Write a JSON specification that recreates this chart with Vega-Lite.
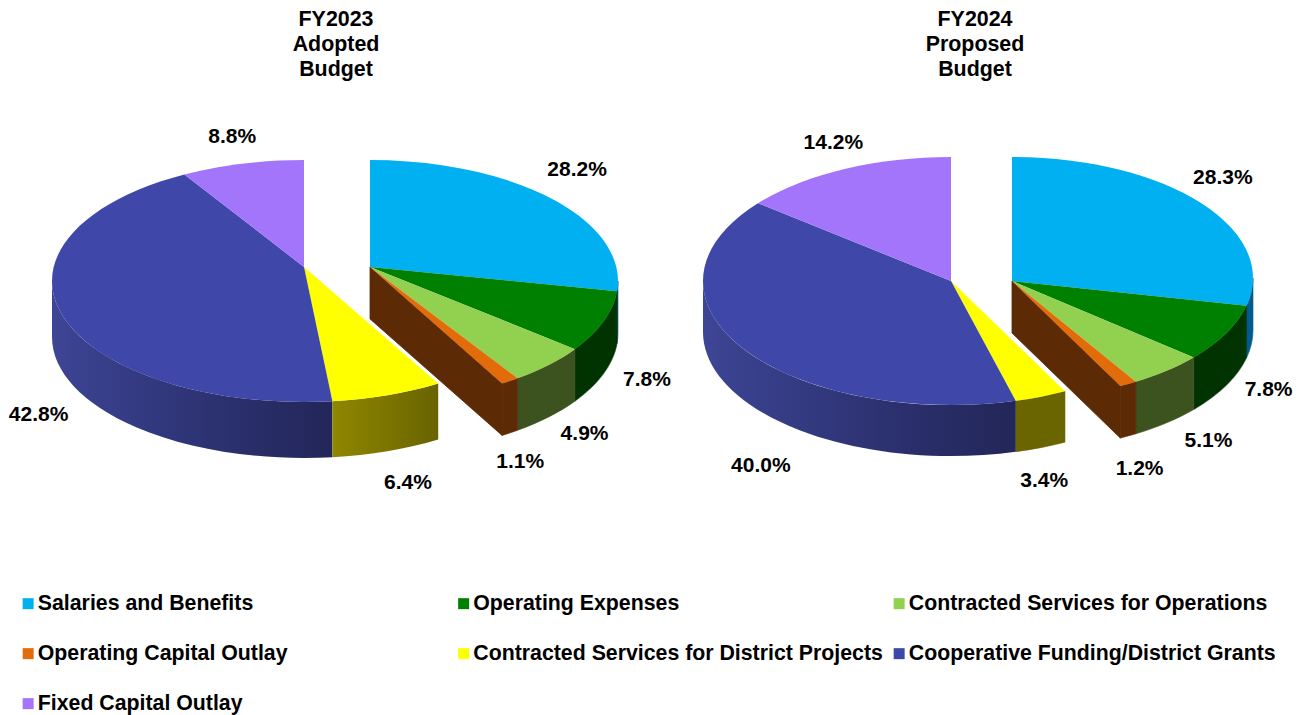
{
"$schema":"https://vega.github.io/schema/vega-lite/v6.json",
"width":1299,"height":715,"padding":0,"autosize":{"type":"none"},"background":"white",
"config":{"view":{"stroke":null}},
"data":{"values":[
{"budget":"FY2023","stage":"Adopted","rank":1,"category":"Salaries and Benefits","share":28.2},
{"budget":"FY2023","stage":"Adopted","rank":2,"category":"Operating Expenses","share":7.8},
{"budget":"FY2023","stage":"Adopted","rank":3,"category":"Contracted Services for Operations","share":4.9},
{"budget":"FY2023","stage":"Adopted","rank":4,"category":"Operating Capital Outlay","share":1.1},
{"budget":"FY2023","stage":"Adopted","rank":5,"category":"Contracted Services for District Projects","share":6.4},
{"budget":"FY2023","stage":"Adopted","rank":6,"category":"Cooperative Funding/District Grants","share":42.8},
{"budget":"FY2023","stage":"Adopted","rank":7,"category":"Fixed Capital Outlay","share":8.8},
{"budget":"FY2024","stage":"Proposed","rank":1,"category":"Salaries and Benefits","share":28.3},
{"budget":"FY2024","stage":"Proposed","rank":2,"category":"Operating Expenses","share":7.8},
{"budget":"FY2024","stage":"Proposed","rank":3,"category":"Contracted Services for Operations","share":5.1},
{"budget":"FY2024","stage":"Proposed","rank":4,"category":"Operating Capital Outlay","share":1.2},
{"budget":"FY2024","stage":"Proposed","rank":5,"category":"Contracted Services for District Projects","share":3.4},
{"budget":"FY2024","stage":"Proposed","rank":6,"category":"Cooperative Funding/District Grants","share":40.0},
{"budget":"FY2024","stage":"Proposed","rank":7,"category":"Fixed Capital Outlay","share":14.2}
]},
"transform":[
{"stack":"share","groupby":["budget"],"sort":[{"field":"rank","order":"ascending"}],"as":["s0","s1"]},
{"calculate":"datum.budget==='FY2023'?0.116:(datum.rank<=4?-0.025:0)","as":"e"},
{"calculate":"datum.budget==='FY2023'?(datum.rank<=4?248:252):(datum.rank<=4?241:248)","as":"rx"},
{"calculate":"datum.budget==='FY2023'?121:(datum.rank<=4?121:124)","as":"ry"},
{"calculate":"datum.budget==='FY2023'?(datum.rank<=4?370:304):(datum.rank<=4?1012:951)","as":"ox"},
{"calculate":"datum.budget==='FY2023'?(datum.rank<=4?52:56):(datum.rank<=4?52:51)","as":"h"},
{"calculate":"datum.budget==='FY2024'&&datum.rank<=4?278:281","as":"cy"},
{"calculate":"sqrt(1-datum.e*datum.e)","as":"k"},
{"calculate":"2*PI*datum.s0/100","as":"a0"},
{"calculate":"2*PI*datum.s1/100","as":"a1"},
{"calculate":"(datum.a0+datum.a1)/2","as":"am"},
{"calculate":"sin(datum.a0)*datum.k/(1+datum.e*cos(datum.a0))","as":"X0"},
{"calculate":"(cos(datum.a0)+datum.e)/(1+datum.e*cos(datum.a0))","as":"Y0"},
{"calculate":"sin(datum.a1)*datum.k/(1+datum.e*cos(datum.a1))","as":"X1"},
{"calculate":"(cos(datum.a1)+datum.e)/(1+datum.e*cos(datum.a1))","as":"Y1"},
{"calculate":"sin(datum.am)*datum.k/(1+datum.e*cos(datum.am))","as":"Xm"},
{"calculate":"(cos(datum.am)+datum.e)/(1+datum.e*cos(datum.am))","as":"Ym"},
{"calculate":"(atan2(datum.X0,datum.Y0)+2*PI)%(2*PI)","as":"p0"},
{"calculate":"(atan2(datum.X1,datum.Y1)+2*PI)%(2*PI)","as":"p1"},
{"calculate":"clamp(datum.p0,PI/2,3*PI/2)","as":"r0"},
{"calculate":"clamp(datum.p1,PI/2,3*PI/2)","as":"r1"},
{"calculate":"round(datum.rx*datum.X0*100)/100","as":"x0"},
{"calculate":"round(-datum.ry*datum.Y0*100)/100","as":"y0"},
{"calculate":"round(datum.rx*datum.X1*100)/100","as":"x1"},
{"calculate":"round(-datum.ry*datum.Y1*100)/100","as":"y1"},
{"calculate":"round(-datum.e*datum.ry*100)/100","as":"ay"},
{"calculate":"round(datum.rx*sin(datum.r0)*100)/100","as":"u0"},
{"calculate":"round(-datum.ry*cos(datum.r0)*100)/100","as":"v0"},
{"calculate":"round(datum.rx*sin(datum.r1)*100)/100","as":"u1"},
{"calculate":"round(-datum.ry*cos(datum.r1)*100)/100","as":"v1"},
{"calculate":"'M0 '+datum.ay+' L'+datum.x0+' '+datum.y0+' A'+datum.rx+' '+datum.ry+' 0 '+(datum.p1-datum.p0>PI?1:0)+' 1 '+datum.x1+' '+datum.y1+' Z'","as":"topPath"},
{"calculate":"'M'+datum.u0+' '+datum.v0+' A'+datum.rx+' '+datum.ry+' 0 0 1 '+datum.u1+' '+datum.v1+' L'+datum.u1+' '+(datum.v1+datum.h)+' A'+datum.rx+' '+datum.ry+' 0 0 0 '+datum.u0+' '+(datum.v0+datum.h)+' Z'","as":"rimPath"},
{"calculate":"'M0 '+datum.ay+' L'+datum.x1+' '+datum.y1+' L'+datum.x1+' '+(datum.y1+datum.h)+' L0 '+(datum.ay+datum.h)+' Z'","as":"wallPath"},
{"calculate":"datum.budget==='FY2023'?[5,11,11,-9,9,14,-2][datum.rank-1]:[-6,12,20,-5,-9,46,4][datum.rank-1]","as":"nx"},
{"calculate":"datum.budget==='FY2023'?[-6,-3,-4,4,4,46,2][datum.rank-1]:[-7,-9,-5,7,5,50,1][datum.rank-1]","as":"ny"},
{"calculate":"datum.ox+(datum.rx+34)*datum.Xm+datum.nx","as":"lx"},
{"calculate":"datum.cy-(datum.ry+30)*datum.Ym+(datum.Ym<0?datum.h:0)+datum.ny","as":"ly"},
{"calculate":"format(datum.share,'.1f')+'%'","as":"label"}
],
"encoding":{
"x":{"field":"ox","type":"quantitative","axis":null,"scale":{"domain":[0,1299],"range":[0,1299],"nice":false,"zero":false}},
"y":{"field":"cy","type":"quantitative","axis":null,"scale":{"domain":[0,715],"range":[0,715],"nice":false,"zero":false}}
},
"layer":[
{"transform":[{"filter":"datum.r1>datum.r0 && datum.rank!==6 && !(datum.rank===5 && datum.budget==='FY2023')"}],
 "mark":{"type":"point","filled":true,"opacity":1,"size":4,"strokeWidth":0.6},
 "encoding":{"shape":{"field":"rimPath","type":"nominal","scale":null,"legend":null},
 "fill":{"field":"rank","type":"ordinal","legend":null,"scale":{"domain":[1,2,3,4,5,6,7],"range":["#005b8f","#003300","#3c5320","#5c2a04","#6b6500","#2e3475","#6a4ea8"]}},
 "stroke":{"field":"rank","type":"ordinal","legend":null,"scale":{"domain":[1,2,3,4,5,6,7],"range":["#005b8f","#003300","#3c5320","#5c2a04","#6b6500","#2e3475","#6a4ea8"]}}}},
{"transform":[{"filter":"datum.r1>datum.r0 && datum.rank===6"}],
 "mark":{"type":"point","filled":true,"opacity":1,"size":4,"fill":{"gradient":"linear","x1":0,"x2":1,"y1":0,"y2":0,"stops":[{"offset":0,"color":"#3d4595"},{"offset":0.5,"color":"#2e3475"},{"offset":1,"color":"#222658"}]}},
 "encoding":{"shape":{"field":"rimPath","type":"nominal","scale":null,"legend":null}}},
{"transform":[{"filter":"datum.r1>datum.r0 && datum.rank===5 && datum.budget==='FY2023'"}],
 "mark":{"type":"point","filled":true,"opacity":1,"size":4,"fill":{"gradient":"linear","x1":0,"x2":1,"y1":0,"y2":0,"stops":[{"offset":0,"color":"#8f8700"},{"offset":1,"color":"#696300"}]}},
 "encoding":{"shape":{"field":"rimPath","type":"nominal","scale":null,"legend":null}}},
{"transform":[{"filter":"datum.rank===4"}],
 "mark":{"type":"point","filled":true,"opacity":1,"size":4,"fill":"#5c2a04","stroke":"#5c2a04","strokeWidth":0.8},
 "encoding":{"shape":{"field":"wallPath","type":"nominal","scale":null,"legend":null}}},
{"mark":{"type":"point","filled":true,"opacity":1,"size":4},
 "encoding":{"shape":{"field":"topPath","type":"nominal","scale":null,"legend":null},
 "color":{"field":"category","type":"nominal",
  "scale":{"domain":["Salaries and Benefits","Operating Expenses","Contracted Services for Operations","Operating Capital Outlay","Contracted Services for District Projects","Cooperative Funding/District Grants","Fixed Capital Outlay"],"range":["#00B0F0","#008000","#92D050","#E36C0A","#FFFF00","#3F48A8","#A375FA"]},
  "legend":{"title":null,"orient":"none","direction":"horizontal","legendX":17.5,"legendY":593,"columns":3,"gridAlign":"all","symbolType":"square","symbolSize":121,"symbolStrokeWidth":0,"symbolOpacity":1,"labelFont":"Liberation Sans","labelFontSize":21.3,"labelFontWeight":"bold","labelColor":"#000000","labelLimit":600,"labelOffset":-1,"rowPadding":28,"columnPadding":5.5,"padding":0,"values":["Salaries and Benefits","Operating Expenses","Contracted Services for Operations","Operating Capital Outlay","Contracted Services for District Projects","Cooperative Funding/District Grants","Fixed Capital Outlay"]}}}},
{"mark":{"type":"text","font":"Liberation Sans","fontSize":21,"fontWeight":"bold","color":"#000000","align":"center","baseline":"middle"},
 "encoding":{"x":{"field":"lx","type":"quantitative"},"y":{"field":"ly","type":"quantitative"},"text":{"field":"label","type":"nominal"}}},
{"transform":[{"filter":"datum.rank===1"},{"calculate":"datum.budget+'\\n'+datum.stage+'\\nBudget'","as":"title"},{"calculate":"datum.budget==='FY2023'?336:975","as":"tx"},{"calculate":"9","as":"ty"}],
 "mark":{"type":"text","font":"Liberation Sans","fontSize":21.4,"fontWeight":"bold","color":"#000000","align":"center","baseline":"top","lineBreak":"\n","lineHeight":25},
 "encoding":{"x":{"field":"tx","type":"quantitative"},"y":{"field":"ty","type":"quantitative"},"text":{"field":"title","type":"nominal"}}}
]
}
